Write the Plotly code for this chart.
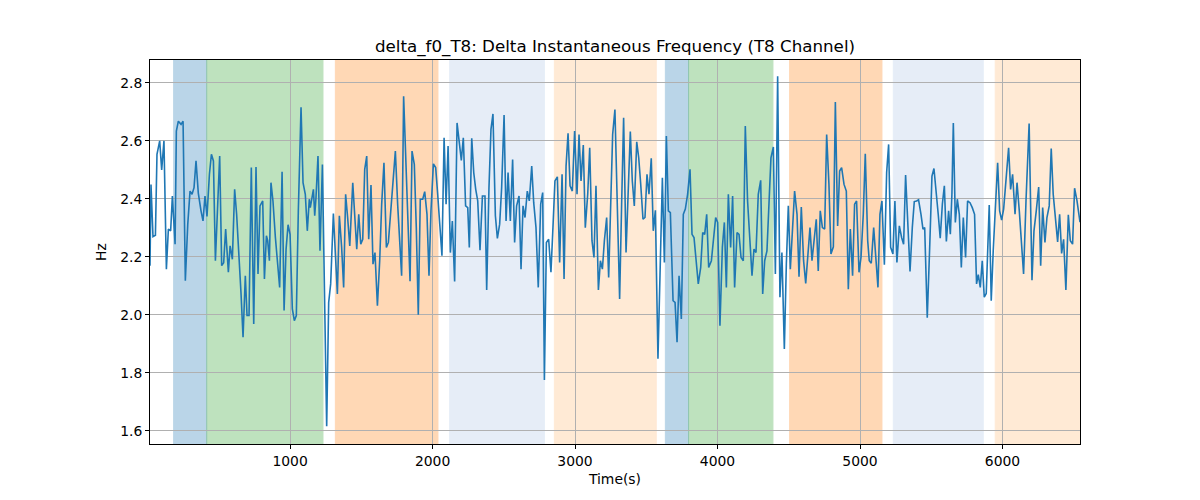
import plotly.graph_objects as go

# Time (s) and delta f0 (Hz)
time_s = [
    17, 24, 38, 55, 66, 85, 99, 115, 132, 146, 162, 174, 193, 202, 216, 235, 249, 265, 282, 298,
    312, 326, 340, 356, 375, 389, 403, 417, 434, 448, 462, 476, 506, 520, 534, 548, 567,
    579, 595, 611, 625, 642, 656, 670, 686, 698, 712, 728, 745, 761, 775, 789, 808, 820, 834, 843,
    855, 866, 880, 897, 913, 927, 944, 958, 972, 986, 1000, 1016, 1030, 1044, 1058, 1077, 1091,
    1107, 1121, 1135,
    1142, 1152, 1164, 1173, 1182, 1196, 1210, 1227, 1257, 1271, 1285, 1304, 1318, 1332, 1346,
    1362, 1376, 1390, 1404, 1419, 1440, 1454, 1468, 1482, 1496, 1510, 1524, 1538, 1552, 1568,
    1582, 1596, 1613, 1629, 1643, 1659, 1676, 1690,
    1706, 1723, 1739, 1755, 1769, 1783, 1797, 1811, 1826, 1842, 1856, 1872, 1886, 1900, 1914,
    1931, 1945, 1961, 1975, 1989, 2006, 2022, 2036, 2050, 2066, 2081, 2095, 2109, 2125, 2139,
    2155, 2172, 2188, 2202, 2216, 2232, 2247, 2258,
    2275, 2289, 2303, 2317, 2333, 2350, 2368, 2380, 2396, 2410, 2424, 2441, 2455, 2471, 2485,
    2502, 2516, 2530, 2546, 2562, 2576, 2590, 2607, 2621, 2635, 2649, 2665, 2679, 2696, 2710,
    2726, 2742, 2759, 2773, 2785, 2799, 2815,
    2831, 2845, 2859, 2876, 2892, 2909, 2923, 2937, 2951, 2965, 2981, 2997, 3014, 3028, 3042,
    3058, 3072, 3089, 3103, 3119, 3133, 3147, 3164, 3178, 3192, 3206, 3222, 3236, 3264, 3280,
    3297, 3313, 3327, 3341, 3358,
    3388, 3402, 3416, 3433, 3447, 3461, 3477, 3491, 3505, 3519, 3535, 3549, 3564, 3582, 3596,
    3613, 3627, 3641, 3655, 3669, 3688, 3702, 3716, 3730, 3746, 3760, 3774, 3790, 3807, 3821,
    3835, 3851, 3865, 3882, 3896, 3910, 3924, 3938,
    3957, 3973, 3987, 4001, 4017, 4034, 4048, 4062, 4076, 4092, 4106, 4120, 4137, 4151, 4165,
    4181, 4195, 4211, 4226, 4242, 4256, 4270, 4286, 4303, 4317, 4331, 4347, 4364, 4375, 4392,
    4406, 4422, 4438, 4452, 4469,
    4483, 4497, 4511, 4527, 4541, 4558, 4572, 4588, 4604, 4619, 4635, 4649, 4663, 4677, 4693,
    4707, 4721, 4736, 4752, 4766, 4782, 4796, 4813, 4827, 4843, 4857, 4871, 4888, 4904, 4918,
    4932, 4948, 4962, 4976, 4993, 5007, 5023, 5037, 5054, 5065,
    5079, 5096, 5110, 5126, 5140, 5154, 5171, 5187, 5201, 5215, 5231, 5245, 5259, 5276, 5292,
    5306, 5320, 5337, 5351, 5367, 5381, 5397, 5411, 5428, 5442, 5454, 5472, 5489, 5505, 5519,
    5533, 5549, 5563, 5578, 5592, 5606, 5622,
    5634, 5645, 5655, 5669, 5683, 5697, 5711, 5725, 5741, 5755, 5772, 5788, 5804, 5818, 5830,
    5844, 5858, 5872, 5886, 5907, 5921, 5935, 5952, 5966, 5980, 5994, 6008, 6024, 6043, 6057,
    6071, 6088, 6102, 6118, 6132, 6148, 6165, 6187,
    6207, 6221, 6237, 6254, 6268, 6282, 6298, 6312, 6328, 6342, 6356, 6370, 6387, 6401, 6415,
    6429, 6445, 6462, 6476, 6492, 6506, 6523, 6544,
]

delta_f0_hz = [
    2.17, 2.45, 2.27, 2.275, 2.554, 2.60, 2.50, 2.60, 2.158, 2.296, 2.29, 2.41, 2.244, 2.634, 2.668,
    2.657, 2.668, 2.118, 2.313, 2.427, 2.416, 2.439, 2.531, 2.42, 2.359, 2.324, 2.41, 2.34, 2.485,
    2.554, 2.531, 2.187, 2.548, 2.170, 2.18, 2.296, 2.147,
    2.238, 2.192, 2.433, 2.347, 2.21, 2.072, 1.923, 2.135, 1.998, 1.998, 2.508, 1.969, 2.51, 2.141,
    2.376, 2.393, 2.124, 2.273, 2.256, 2.187, 2.456, 2.393, 2.267, 2.164, 2.095, 2.494, 2.015,
    2.227, 2.311, 2.278, 2.021, 1.98, 1.998, 2.359, 2.716, 2.456, 2.416, 2.29, 2.399,
    2.37, 2.40, 2.433, 2.342, 2.405, 2.548, 2.221, 2.519, 1.616, 2.043, 2.107, 2.35, 2.21, 2.072,
    2.342, 2.233, 2.095, 2.416, 2.336, 2.238, 2.456, 2.347, 2.227, 2.347, 2.244, 2.261, 2.502,
    2.548, 2.261, 2.448, 2.175, 2.215, 2.032, 2.187, 2.382, 2.525, 2.233, 2.25,
    2.359, 2.439, 2.565, 2.382, 2.256, 2.135, 2.754, 2.55, 2.301, 2.116, 2.565, 2.519, 2.301,
    2.001, 2.399, 2.399, 2.425, 2.347, 2.135, 2.359, 2.521, 2.508, 2.416, 2.301, 2.204, 2.611,
    2.382, 2.582, 2.215, 2.324, 2.115, 2.662, 2.588, 2.533, 2.611, 2.376, 2.37, 2.233,
    2.609, 2.491, 2.433, 2.393, 2.223, 2.41, 2.41, 2.086, 2.439, 2.64, 2.693, 2.342, 2.264, 2.313,
    2.439, 2.689, 2.324, 2.491, 2.324, 2.536, 2.25, 2.376, 2.41, 2.158, 2.376, 2.336, 2.427, 2.393,
    2.513, 2.387, 2.301, 2.095, 2.382, 2.422, 1.776, 2.25, 2.261,
    2.147, 2.301, 2.462, 2.476, 2.181, 2.485, 2.124, 2.513, 2.626, 2.445, 2.427, 2.634, 2.416,
    2.622, 2.462, 2.586, 2.301, 2.416, 2.576, 2.256, 2.198, 2.445, 2.086, 2.187, 2.158, 2.256,
    2.336, 2.129, 2.622, 2.708, 2.416, 2.055, 2.382, 2.68, 2.215,
    2.632, 2.462, 2.376, 2.597, 2.542, 2.45, 2.33, 2.336, 2.485, 2.416, 2.54, 2.29, 2.361, 1.849,
    2.095, 2.473, 2.181, 2.617, 2.359, 2.353, 2.049, 2.043, 1.906, 2.135, 1.986, 2.347, 2.365,
    2.416, 2.502, 2.278, 2.267, 2.164, 2.107, 2.164, 2.284, 2.278, 2.347, 2.164,
    2.187, 2.267, 2.336, 2.319, 1.963, 2.233, 2.319, 2.095, 2.416, 2.233, 2.41, 2.095, 2.284,
    2.278, 2.198, 2.187, 2.651, 2.393, 2.256, 2.135, 2.227, 2.215, 2.416, 2.464, 2.072, 2.187,
    2.221, 2.416, 2.542, 2.579, 2.141, 2.823, 2.061, 2.215, 1.883,
    2.175, 2.376, 2.158, 2.319, 2.427, 2.347, 2.132, 2.372, 2.187, 2.109, 2.221, 2.301, 2.187,
    2.244, 2.33, 2.152, 2.359, 2.301, 2.296, 2.622, 2.45, 2.21, 2.235, 2.734, 2.307, 2.496, 2.508,
    2.45, 2.427, 2.089, 2.296, 2.135, 2.382, 2.393, 2.147, 2.198, 2.347, 2.556, 2.256, 2.187,
    2.178, 2.301, 2.215, 2.095, 2.347, 2.393, 2.173, 2.491, 2.588, 2.233, 2.21, 2.393, 2.181,
    2.307, 2.267, 2.244, 2.482, 2.313, 2.15, 2.301, 2.391, 2.393, 2.397, 2.347, 2.296, 2.301,
    1.99, 2.233, 2.479, 2.505, 2.416, 2.347, 2.265, 2.382, 2.445, 2.253, 2.359,
    2.278, 2.416, 2.662, 2.319, 2.399, 2.347, 2.164, 2.336, 2.198, 2.393, 2.387, 2.37, 2.347,
    2.107, 2.139, 2.095, 2.187, 2.061, 2.074, 2.379, 2.049, 2.221, 2.404, 2.525, 2.359, 2.327,
    2.365, 2.462, 2.576, 2.433, 2.485, 2.347, 2.456, 2.359, 2.256, 2.141, 2.393, 2.66,
    2.12, 2.29, 2.359, 2.441, 2.17, 2.37, 2.25, 2.336, 2.376, 2.574, 2.416, 2.347, 2.252, 2.347,
    2.212, 2.261, 2.086, 2.345, 2.256, 2.244, 2.437, 2.393, 2.32,
]

# Shaded intervals (start, end) and their colours
span_starts = [183, 415, 1318, 2120, 2855, 3634, 3797, 4506, 5234, 5949]
span_ends = [415, 1231, 2038, 2785, 3570, 3797, 4389, 5154, 5865, 6600]
span_colors = ["#1f77b4", "#2ca02c", "#ff7f0e", "#aec7e8", "#ffbb78",
               "#1f77b4", "#2ca02c", "#ff7f0e", "#aec7e8", "#ffbb78"]

x_range = [17, 6544]
y_range = [1.555, 2.879]
x_ticks = [1000, 2000, 3000, 4000, 5000, 6000]
y_ticks = [1.6, 1.8, 2.0, 2.2, 2.4, 2.6, 2.8]

fig = go.Figure()
fig.add_trace(go.Scatter(x=time_s, y=delta_f0_hz, mode="lines",
                         line=dict(color="#1f77b4", width=1.6), showlegend=False))

for s, e, c in zip(span_starts, span_ends, span_colors):
    fig.add_shape(type="rect", xref="x", yref="paper", x0=s, x1=e, y0=0, y1=1,
                  fillcolor=c, opacity=0.3, line=dict(color=c, width=1), layer="below")

font = "DejaVu Sans, sans-serif"
fig.update_layout(
    width=1200, height=500,
    margin=dict(l=142, r=128, t=52, b=64),
    paper_bgcolor="white", plot_bgcolor="white",
    font=dict(family=font, size=13.9, color="black"),
    title=dict(text="delta_f0_T8: Delta Instantaneous Frequency (T8 Channel)",
               x=607 / 1200, xanchor="center", xref="container",
               y=1 - 38 / 500, yanchor="middle", yref="container",
               font=dict(family=font, size=16.7, color="black")),
    xaxis=dict(range=x_range, tickvals=x_ticks, showgrid=True, gridcolor="#b0b0b0",
               gridwidth=0.8, zeroline=False, showline=True, linecolor="black",
               linewidth=1, mirror=True, ticks="outside", ticklen=4, tickcolor="black",
               title=dict(text="Time(s)", standoff=6, font=dict(size=13.9))),
    yaxis=dict(range=y_range, tickvals=y_ticks, tickformat=".1f", showgrid=True,
               gridcolor="#b0b0b0", gridwidth=0.8, zeroline=False, showline=True,
               linecolor="black", linewidth=1, mirror=True, ticks="outside", ticklen=4,
               tickcolor="black",
               title=dict(text="Hz", standoff=10, font=dict(size=13.9))),
)

fig.write_html("out.html")
